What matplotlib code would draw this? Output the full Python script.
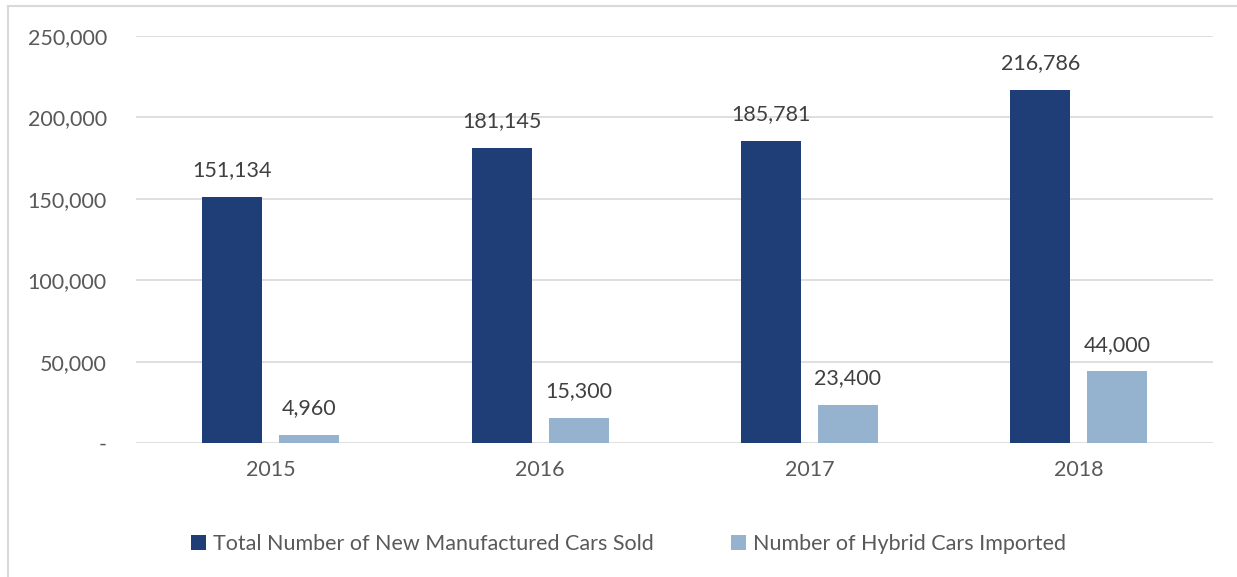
import matplotlib
matplotlib.use("Agg")
import matplotlib.pyplot as plt
from matplotlib.lines import Line2D
import numpy as np

years = ["2015", "2016", "2017", "2018"]
total_sold = [151134, 181145, 185781, 216786]
hybrid_imported = [4960, 15300, 23400, 44000]
series_names = ["Total Number of New Manufactured Cars Sold", "Number of Hybrid Cars Imported"]
y_ticks = [0, 50000, 100000, 150000, 200000, 250000]

dark_blue = "#1F3E78"
light_blue = "#95B3CF"
text_gray = "#595959"
grid_gray = "#D9D9D9"

plt.rcParams["font.family"] = ["Lato", "DejaVu Sans"]

fig = plt.figure(figsize=(12.37, 5.77), dpi=100)
ax = fig.add_axes([0.110, 0.232, 0.871, 0.7056])

x = np.arange(len(years))
w = 0.223
gap = 0.063
b1 = ax.bar(x - (w + gap) / 2, total_sold, w, color=dark_blue, label=series_names[0], zorder=3)
b2 = ax.bar(x + (w + gap) / 2, hybrid_imported, w, color=light_blue, label=series_names[1], zorder=3)

for bars, vals in ((b1, total_sold), (b2, hybrid_imported)):
    for r, v in zip(bars, vals):
        ax.annotate(f"{v:,}", (r.get_x() + r.get_width() / 2, v), xytext=(0, 12),
                    textcoords="offset points", ha="center", va="bottom",
                    fontsize=15.5, color="#404040")

ax.set_xlim(-0.5, len(years) - 0.5)
ax.set_ylim(0, 250000)
ax.set_yticks(y_ticks)
ax.set_yticklabels(["-" if t == 0 else f"{t:,}" for t in y_ticks])
ax.set_xticks(x)
ax.set_xticklabels(years)
ax.tick_params(axis="both", length=0, labelsize=15.5, labelcolor=text_gray)
ax.tick_params(axis="y", pad=21)
ax.tick_params(axis="x", pad=12)
ax.grid(axis="y", color=grid_gray, linewidth=1.2, zorder=0)
for s in ax.spines.values():
    s.set_visible(False)

fig.legend(handles=[b1, b2], labels=series_names, loc="center", bbox_to_anchor=(0.508, 0.057),
           ncol=2, frameon=False, fontsize=15.5, labelcolor=text_gray,
           handlelength=0.7, handleheight=0.7, handletextpad=0.3, columnspacing=3.6)

# chart frame
fig.add_artist(Line2D([8 / 1237, 8 / 1237], [0, 1 - 6 / 577], transform=fig.transFigure,
                      color=grid_gray, linewidth=1.5))
fig.add_artist(Line2D([8 / 1237, 1], [1 - 6 / 577, 1 - 6 / 577], transform=fig.transFigure,
                      color=grid_gray, linewidth=1.5))

fig.savefig("out.png", dpi=100)
